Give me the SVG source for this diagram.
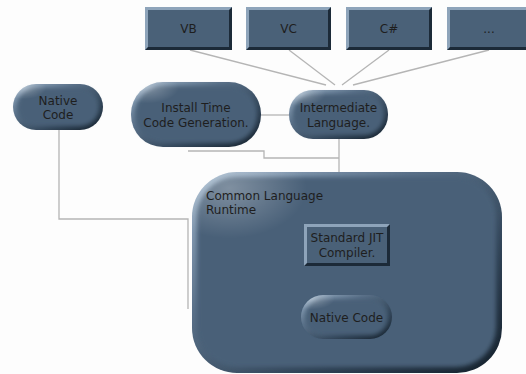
<svg xmlns="http://www.w3.org/2000/svg" width="526" height="374" viewBox="0 0 526 374">
<defs>
  <linearGradient id="rim" x1="0" y1="0" x2="1" y2="1">
    <stop offset="0" stop-color="#9fb6cc"/>
    <stop offset="0.35" stop-color="#5a7189"/>
    <stop offset="0.7" stop-color="#2f4255"/>
    <stop offset="1" stop-color="#14202b"/>
  </linearGradient>
  <radialGradient id="spec" cx="0.12" cy="0.08" r="0.25">
    <stop offset="0" stop-color="#ffffff" stop-opacity="0.3"/>
    <stop offset="1" stop-color="#ffffff" stop-opacity="0"/>
  </radialGradient>
  <filter id="soft" x="-10%" y="-10%" width="120%" height="120%">
    <feGaussianBlur stdDeviation="2"/>
  </filter>
  <style>
    .bg { fill: #fdfdfd; }
    .rim { fill: url(#rim); }
    .face { fill: #4a6178; filter: url(#soft); }
    .spec { fill: url(#spec); }
    .dark { fill: #1c2a38; }
    .light { fill: #8ea4ba; }
    .flat { fill: #4a6178; }
    .lbl { font-family: "DejaVu Sans", Verdana, sans-serif; font-size: 12px; fill: #1e1e1e; text-anchor: middle; }
    .lbll { font-family: "DejaVu Sans", Verdana, sans-serif; font-size: 12px; fill: #1e1e1e; }
    .conn { fill: none; stroke: #b5b5b5; stroke-width: 1.3; }
  </style>
</defs>
<rect class="bg" x="0" y="0" width="526" height="374"/>

<g id="connectors">
  <line class="conn" x1="190" y1="50" x2="326" y2="85"/>
  <line class="conn" x1="289" y1="50" x2="335" y2="85"/>
  <line class="conn" x1="389" y1="50" x2="342" y2="85"/>
  <line class="conn" x1="489" y1="50" x2="353" y2="85"/>
  <line class="conn" x1="261" y1="115" x2="289" y2="115"/>
  <line class="conn" x1="339" y1="139" x2="339" y2="172"/>
  <polyline class="conn" points="188,151 264,151 264,158 339,158"/>
  <polyline class="conn" points="59,130 59,219 188,219 188,309"/>
</g>

<g id="vb">
  <rect class="dark" x="145" y="7" width="87" height="43"/>
  <polygon class="light" points="145,7 232,7 229,10 148,10 148,47 145,50"/>
  <rect class="flat" x="148" y="10" width="81" height="37"/>
  <text class="lbl" x="188.5" y="33">VB</text>
</g>
<g id="vc">
  <rect class="dark" x="246" y="7" width="85" height="43"/>
  <polygon class="light" points="246,7 331,7 328,10 249,10 249,47 246,50"/>
  <rect class="flat" x="249" y="10" width="79" height="37"/>
  <text class="lbl" x="288.5" y="33">VC</text>
</g>
<g id="cs">
  <rect class="dark" x="346" y="7" width="86" height="43"/>
  <polygon class="light" points="346,7 432,7 429,10 349,10 349,47 346,50"/>
  <rect class="flat" x="349" y="10" width="80" height="37"/>
  <text class="lbl" x="389" y="33">C#</text>
</g>
<g id="more">
  <rect class="dark" x="447" y="7" width="79" height="43"/>
  <polygon class="light" points="447,7 526,7 526,10 450,10 450,47 447,50"/>
  <rect class="flat" x="450" y="10" width="76" height="37"/>
  <text class="lbl" x="489" y="33">...</text>
</g>

<g id="native-top">
  <rect class="rim" x="13" y="84" width="90" height="46" rx="23"/>
  <rect class="face" x="17" y="88" width="82" height="38" rx="19"/>
  <rect class="spec" x="13" y="84" width="90" height="46" rx="23"/>
  <text class="lbl" x="58" y="105">Native</text>
  <text class="lbl" x="58" y="119">Code</text>
</g>

<g id="install">
  <rect class="rim" x="131" y="82" width="130" height="65" rx="32"/>
  <rect class="face" x="135" y="86" width="122" height="57" rx="28"/>
  <rect class="spec" x="131" y="82" width="130" height="65" rx="32"/>
  <text class="lbl" x="196" y="112">Install Time</text>
  <text class="lbl" x="196" y="127">Code Generation.</text>
</g>

<g id="intermediate">
  <rect class="rim" x="289" y="90" width="99" height="49" rx="24"/>
  <rect class="face" x="293" y="94" width="91" height="41" rx="20"/>
  <rect class="spec" x="289" y="90" width="99" height="49" rx="24"/>
  <text class="lbl" x="338.5" y="112">Intermediate</text>
  <text class="lbl" x="338.5" y="127">Language.</text>
</g>

<g id="clr">
  <rect class="rim" x="192" y="172" width="310" height="201" rx="45"/>
  <rect class="face" x="197" y="177" width="299" height="190" rx="40"/>
  <rect class="spec" x="192" y="172" width="310" height="201" rx="45"/>
  <text class="lbll" x="206" y="200">Common Language</text>
  <text class="lbll" x="206" y="214">Runtime</text>
</g>

<g id="jit">
  <rect class="dark" x="304" y="224" width="86" height="42"/>
  <polygon class="light" points="304,224 390,224 387,227 307,227 307,263 304,266"/>
  <rect class="flat" x="307" y="227" width="80" height="36"/>
  <text class="lbl" x="347" y="242">Standard JIT</text>
  <text class="lbl" x="347" y="257">Compiler.</text>
</g>

<g id="native-inner">
  <rect class="rim" x="301" y="295" width="91" height="44" rx="22"/>
  <rect class="face" x="305" y="299" width="83" height="36" rx="18"/>
  <rect class="spec" x="301" y="295" width="91" height="44" rx="22"/>
  <text class="lbl" x="346.5" y="322">Native Code</text>
</g>
</svg>
